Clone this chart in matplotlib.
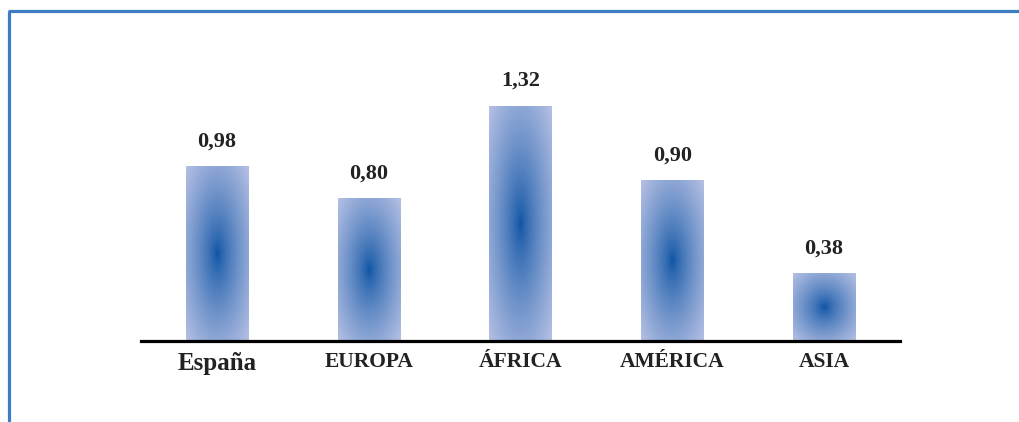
import matplotlib.pyplot as plt
import numpy as np
from matplotlib.colors import to_rgb
from matplotlib.lines import Line2D

regiones = ['España', 'EUROPA', 'ÁFRICA', 'AMÉRICA', 'ASIA']
valores = [0.98, 0.80, 1.32, 0.90, 0.38]
etiquetas = ['0,98', '0,80', '1,32', '0,90', '0,38']

W, H = 1019, 422
fig = plt.figure(figsize=(W / 100, H / 100), dpi=100)
ax = fig.add_axes([141 / W, (H - 341) / H, (900 - 141) / W, (341 - 74) / H])
ax.set_xlim(-0.5, 4.5)
ax.set_ylim(0, 1.5)

# degradado radial para cada barra
centro = np.array(to_rgb('#0b52a3'))
borde = np.array(to_rgb('#b5c0e4'))
ancho = 0.41
nx, ny = 60, 200
xx, yy = np.meshgrid(np.linspace(-1, 1, nx), np.linspace(-1, 1, ny))
d = np.sqrt(xx ** 2 + yy ** 2) / np.sqrt(2)
t = np.clip(d, 0, 1) ** 0.75
img = centro[None, None, :] * (1 - t[..., None]) + borde[None, None, :] * t[..., None]

bars = ax.bar(range(len(regiones)), valores, width=ancho, color='none')
for i, (b, v) in enumerate(zip(bars, valores)):
    x0 = b.get_x()
    ax.imshow(img, extent=[x0, x0 + ancho, 0, v], aspect='auto',
              origin='lower', interpolation='bilinear', zorder=2)
    ax.text(i, v + 0.085, etiquetas[i], ha='center', va='bottom',
            fontsize=16, fontweight='bold', family='Liberation Serif',
            color='#222222')

ax.set_xlim(-0.5, 4.5)
ax.set_ylim(0, 1.5)
for s in ['top', 'right', 'left']:
    ax.spines[s].set_visible(False)
ax.spines['bottom'].set_linewidth(2.3)
ax.spines['bottom'].set_color('black')
ax.set_yticks([])
ax.set_xticks(range(len(regiones)))
ax.set_xticklabels(regiones)
ax.tick_params(axis='x', length=0, pad=8)
for i, lab in enumerate(ax.get_xticklabels()):
    lab.set_fontfamily('Liberation Serif')
    lab.set_fontweight('bold')
    lab.set_fontsize(18 if i == 0 else 15.5)
    lab.set_color('#222222')

# marco azul del recuadro
azul = '#3c7dc4'
fig.add_artist(Line2D([9 / W, 9 / W], [0, (H - 11) / H], color=azul, lw=2.3,
                      solid_capstyle='butt'))
fig.add_artist(Line2D([8 / W, 1], [(H - 11) / H, (H - 11) / H], color=azul, lw=2.3,
                      solid_capstyle='butt'))

fig.savefig('out.png', dpi=100)
